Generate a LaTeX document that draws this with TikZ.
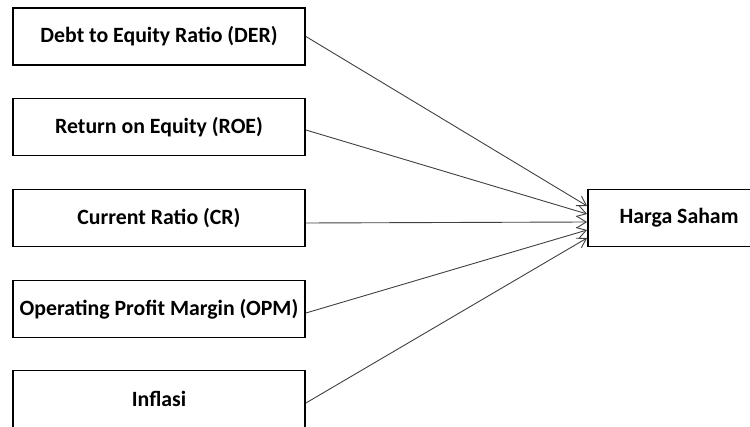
\documentclass[tikz,border=0pt]{standalone}
\usepackage{fontspec}
\setmainfont{Carlito}
\usetikzlibrary{arrows.meta}

\begin{document}
\begin{tikzpicture}[x=1pt,y=-1pt,
  var/.style={draw,line width=1.8pt,minimum width=292pt,minimum height=57pt,
    inner sep=0pt,font=\fontsize{21.8}{25}\selectfont\bfseries},
  link/.style={draw=black!75,line width=0.9pt,-{Straight Barb[length=9pt,width=11pt]}}]
  \useasboundingbox (0,0) rectangle (750,427);
  \clip (0,0) rectangle (750,427);
  \node[var] (der) at (159,36.5) {Debt to Equity Ratio (DER)};
  \node[var] (roe) at (159,127) {Return on Equity (ROE)};
  \node[var] (cr) at (159,218) {Current Ratio (CR)};
  \node[var] (opm) at (159,309) {Operating Profit Margin (OPM)};
  \node[var] (inf) at (159,399) {Inflasi};
  \node[var,minimum width=182pt] (harga) at (679,218) {Harga Saham};
  \foreach \v/\s/\e in {der/0/12, roe/-3/4, cr/-5/-4, opm/-4/-12, inf/-4/-20}
    \draw[link] ([yshift=\s pt]\v.east) -- ([yshift=\e pt]harga.west);
\end{tikzpicture}
\end{document}
